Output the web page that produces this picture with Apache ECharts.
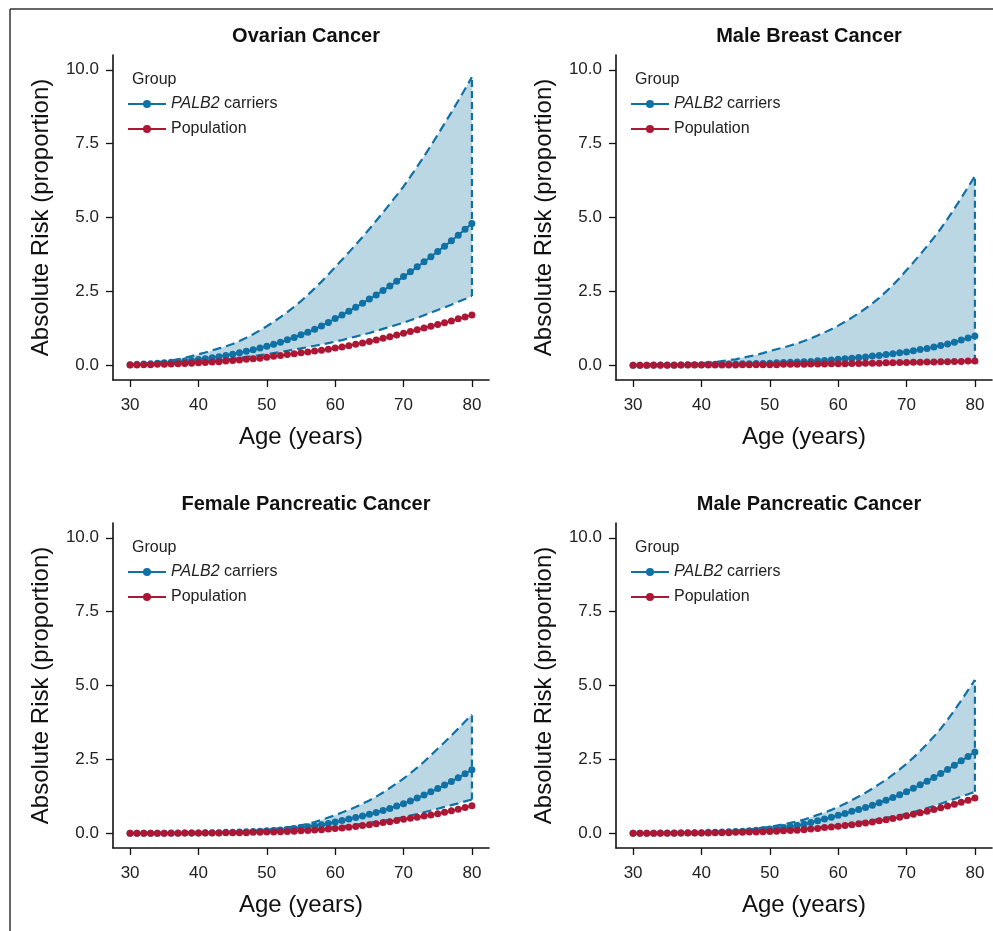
<!DOCTYPE html>
<html>
<head>
<meta charset="utf-8">
<script src="https://cdn.jsdelivr.net/npm/echarts@6/dist/echarts.min.js"></script>
<style>
html,body{margin:0;padding:0;background:#fff;}
#chart{width:993px;height:931px;}
</style>
</head>
<body>
<div id="chart"></div>
<script>
// ---------- data ----------
var ages = [30,31,32,33,34,35,36,37,38,39,40,41,42,43,44,45,46,47,48,49,50,51,52,53,54,55,56,57,58,59,60,61,62,63,64,65,66,67,68,69,70,71,72,73,74,75,76,77,78,79,80];
var xTicks = [30,40,50,60,70,80];
var yTicks = [0,2.5,5,7.5,10];
var panelTitles = ['Ovarian Cancer','Male Breast Cancer','Female Pancreatic Cancer','Male Pancreatic Cancer'];
var seriesNames = ['PALB2 carriers','Population'];

// Ovarian
var ovarianCarrier = [0.02,0.03,0.04,0.05,0.07,0.08,0.10,0.12,0.14,0.16,0.19,0.22,0.25,0.29,0.33,0.37,0.42,0.47,0.52,0.58,0.64,0.71,0.78,0.86,0.94,1.03,1.12,1.22,1.33,1.45,1.58,1.70,1.83,1.96,2.10,2.24,2.38,2.53,2.68,2.84,3.00,3.16,3.33,3.50,3.67,3.85,4.03,4.21,4.40,4.60,4.80];
var ovarianUpper = [0.03,0.04,0.06,0.08,0.10,0.13,0.16,0.20,0.25,0.31,0.37,0.43,0.50,0.57,0.64,0.72,0.82,0.93,1.05,1.18,1.32,1.47,1.63,1.80,1.98,2.17,2.38,2.60,2.83,3.07,3.32,3.57,3.82,4.08,4.34,4.61,4.89,5.17,5.46,5.75,6.05,6.38,6.72,7.07,7.43,7.80,8.18,8.56,8.95,9.35,9.75];
var ovarianLower = [0.01,0.01,0.02,0.03,0.04,0.05,0.06,0.07,0.08,0.09,0.11,0.13,0.15,0.17,0.19,0.22,0.25,0.28,0.31,0.34,0.37,0.41,0.45,0.49,0.53,0.57,0.61,0.66,0.70,0.75,0.80,0.85,0.91,0.97,1.03,1.09,1.16,1.23,1.30,1.37,1.44,1.52,1.60,1.69,1.78,1.87,1.96,2.05,2.15,2.24,2.34];
var ovarianPopulation = [0.01,0.01,0.02,0.02,0.03,0.03,0.04,0.05,0.06,0.07,0.08,0.09,0.11,0.12,0.14,0.16,0.18,0.20,0.22,0.24,0.27,0.30,0.33,0.36,0.39,0.42,0.45,0.48,0.51,0.54,0.58,0.62,0.66,0.71,0.75,0.80,0.85,0.91,0.96,1.02,1.08,1.14,1.20,1.26,1.32,1.38,1.44,1.50,1.57,1.63,1.70];

// Male breast
var maleBreastCarrier = [0.00,0.00,0.00,0.01,0.01,0.01,0.01,0.01,0.02,0.02,0.02,0.03,0.03,0.03,0.04,0.04,0.05,0.05,0.06,0.06,0.07,0.08,0.09,0.10,0.11,0.12,0.13,0.15,0.16,0.18,0.20,0.22,0.24,0.26,0.28,0.31,0.33,0.36,0.39,0.42,0.45,0.49,0.53,0.57,0.62,0.67,0.72,0.78,0.85,0.92,0.99];
var maleBreastUpper = [0.00,0.00,0.01,0.01,0.01,0.02,0.03,0.04,0.05,0.06,0.07,0.09,0.11,0.14,0.17,0.20,0.25,0.30,0.35,0.41,0.48,0.54,0.60,0.67,0.74,0.82,0.91,1.01,1.11,1.22,1.34,1.47,1.61,1.76,1.92,2.09,2.28,2.49,2.71,2.96,3.22,3.48,3.75,4.03,4.32,4.62,4.95,5.30,5.66,6.03,6.40];
var maleBreastLower = [0.00,0.00,0.00,0.00,0.00,0.00,0.00,0.00,0.00,0.00,0.00,0.00,0.00,0.00,0.00,0.00,0.00,0.01,0.01,0.01,0.01,0.01,0.01,0.01,0.02,0.02,0.02,0.02,0.02,0.03,0.03,0.03,0.03,0.04,0.04,0.05,0.05,0.05,0.06,0.06,0.07,0.07,0.08,0.08,0.09,0.09,0.10,0.10,0.11,0.11,0.12];
var maleBreastPopulation = [0.00,0.00,0.00,0.00,0.00,0.00,0.00,0.01,0.01,0.01,0.01,0.01,0.01,0.01,0.01,0.01,0.02,0.02,0.02,0.02,0.02,0.02,0.03,0.03,0.03,0.03,0.04,0.04,0.04,0.05,0.05,0.05,0.06,0.06,0.07,0.07,0.07,0.08,0.08,0.09,0.09,0.10,0.10,0.11,0.11,0.12,0.12,0.13,0.13,0.14,0.14];

// Female pancreatic
var femPancCarrier = [0.00,0.00,0.00,0.00,0.00,0.00,0.01,0.01,0.01,0.01,0.01,0.02,0.02,0.02,0.03,0.03,0.04,0.05,0.06,0.07,0.08,0.09,0.11,0.13,0.16,0.19,0.22,0.25,0.29,0.33,0.38,0.43,0.48,0.53,0.58,0.64,0.70,0.77,0.84,0.92,1.00,1.09,1.19,1.29,1.40,1.51,1.63,1.75,1.88,2.01,2.15];
var femPancUpper = [0.00,0.00,0.00,0.01,0.01,0.01,0.01,0.01,0.02,0.02,0.02,0.03,0.03,0.04,0.04,0.05,0.06,0.07,0.09,0.11,0.13,0.15,0.17,0.20,0.23,0.27,0.32,0.38,0.45,0.53,0.61,0.70,0.79,0.89,1.00,1.11,1.24,1.38,1.53,1.69,1.85,2.03,2.22,2.42,2.64,2.86,3.08,3.31,3.54,3.78,4.02];
var femPancLower = [0.00,0.00,0.00,0.00,0.00,0.00,0.00,0.00,0.01,0.01,0.01,0.01,0.01,0.01,0.02,0.02,0.02,0.03,0.03,0.04,0.04,0.05,0.06,0.07,0.08,0.10,0.12,0.14,0.16,0.18,0.21,0.23,0.26,0.29,0.32,0.35,0.39,0.42,0.46,0.50,0.55,0.60,0.65,0.71,0.77,0.83,0.89,0.95,1.01,1.08,1.14];
var femPancPopulation = [0.00,0.00,0.00,0.00,0.00,0.00,0.00,0.00,0.01,0.01,0.01,0.01,0.01,0.01,0.02,0.02,0.02,0.02,0.03,0.03,0.04,0.04,0.05,0.06,0.07,0.08,0.09,0.11,0.12,0.14,0.16,0.18,0.20,0.23,0.26,0.29,0.32,0.36,0.39,0.43,0.47,0.51,0.54,0.58,0.62,0.66,0.71,0.76,0.81,0.87,0.93];

// Male pancreatic
var malePancCarrier = [0.00,0.00,0.00,0.00,0.01,0.01,0.01,0.01,0.02,0.02,0.02,0.03,0.03,0.04,0.05,0.06,0.07,0.08,0.10,0.12,0.14,0.16,0.19,0.22,0.26,0.30,0.36,0.42,0.48,0.54,0.61,0.67,0.74,0.80,0.87,0.95,1.03,1.12,1.21,1.30,1.40,1.52,1.64,1.76,1.89,2.02,2.16,2.30,2.45,2.60,2.75];
var malePancUpper = [0.00,0.00,0.01,0.01,0.01,0.01,0.02,0.02,0.03,0.03,0.04,0.05,0.06,0.07,0.08,0.09,0.11,0.13,0.16,0.19,0.22,0.26,0.30,0.35,0.40,0.46,0.54,0.62,0.70,0.79,0.89,1.00,1.12,1.24,1.37,1.51,1.66,1.81,1.98,2.16,2.35,2.56,2.78,3.02,3.27,3.54,3.84,4.16,4.49,4.84,5.19];
var malePancLower = [0.00,0.00,0.00,0.00,0.00,0.00,0.01,0.01,0.01,0.01,0.01,0.02,0.02,0.02,0.03,0.03,0.04,0.04,0.05,0.06,0.07,0.08,0.10,0.12,0.14,0.16,0.18,0.20,0.22,0.24,0.27,0.30,0.33,0.37,0.40,0.44,0.48,0.52,0.56,0.61,0.66,0.72,0.78,0.85,0.92,1.00,1.08,1.16,1.24,1.32,1.40];
var malePancPopulation = [0.00,0.00,0.00,0.00,0.00,0.00,0.00,0.01,0.01,0.01,0.01,0.01,0.02,0.02,0.02,0.03,0.03,0.04,0.04,0.05,0.06,0.07,0.08,0.09,0.10,0.12,0.14,0.16,0.19,0.21,0.24,0.26,0.29,0.32,0.35,0.38,0.42,0.46,0.50,0.54,0.59,0.64,0.69,0.74,0.80,0.86,0.92,0.98,1.05,1.12,1.19];

// ---------- styling ----------
var BLUE = '#1071a4';
var RED = '#ab1734';
var FILL = '#bcd7e4';
var FONT = '"Liberation Sans", Arial, sans-serif';

var panels = [
  {carrier: ovarianCarrier, upper: ovarianUpper, lower: ovarianLower, pop: ovarianPopulation},
  {carrier: maleBreastCarrier, upper: maleBreastUpper, lower: maleBreastLower, pop: maleBreastPopulation},
  {carrier: femPancCarrier, upper: femPancUpper, lower: femPancLower, pop: femPancPopulation},
  {carrier: malePancCarrier, upper: malePancUpper, lower: malePancLower, pop: malePancPopulation}
];
var gridPos = [
  {left: 113, top: 55},
  {left: 616, top: 55},
  {left: 113, top: 523},
  {left: 616, top: 523}
];
var GW = 376, GH = 325;

function pairs(arr) { return ages.map(function (a, j) { return [a, arr[j]]; }); }

var grids = [], xAxes = [], yAxes = [], series = [], titles = [], legends = [], graphics = [];

gridPos.forEach(function (g, i) {
  grids.push({left: g.left, top: g.top, width: GW, height: GH, containLabel: false});
  xAxes.push({
    type: 'value', gridIndex: i, min: 27.5, max: 82.5,
    name: 'Age (years)', nameLocation: 'middle', nameGap: 45,
    nameTextStyle: {fontFamily: FONT, fontSize: 24, color: '#111'},
    axisLine: {onZero: false, lineStyle: {color: '#111', width: 1.6}},
    axisTick: {show: true, length: 7, customValues: xTicks, lineStyle: {color: '#111', width: 1.3}},
    axisLabel: {customValues: xTicks, margin: 17, fontFamily: FONT, fontSize: 17, color: '#222'},
    splitLine: {show: false}
  });
  yAxes.push({
    type: 'value', gridIndex: i, min: -0.5, max: 10.5,
    name: 'Absolute Risk (proportion)', nameLocation: 'middle', nameGap: 60,
    nameTextStyle: {fontFamily: FONT, fontSize: 24, color: '#111'},
    axisLine: {show: true, onZero: false, lineStyle: {color: '#111', width: 1.6}},
    axisTick: {show: true, length: 7, customValues: yTicks, lineStyle: {color: '#111', width: 1.3}},
    axisLabel: {customValues: yTicks, margin: 14, fontFamily: FONT, fontSize: 17, color: '#222',
      formatter: function (v) { return Number(v).toFixed(1); }},
    splitLine: {show: false}
  });
  titles.push({
    text: panelTitles[i], left: g.left + GW / 2, top: g.top - 34, textAlign: 'center',
    textStyle: {fontFamily: FONT, fontSize: 20, fontWeight: 'bold', color: '#111'}
  });
  titles.push({
    text: 'Group', left: g.left + 14, top: g.top + 12,
    textStyle: {fontFamily: FONT, fontSize: 16, fontWeight: 'normal', color: '#222'}
  });
  legends.push({
    left: g.left + 14, top: g.top + 41, orient: 'vertical', padding: 0, itemGap: 9,
    itemWidth: 38, itemHeight: 10, selectedMode: false,
    data: seriesNames,
    textStyle: {fontFamily: FONT, fontSize: 16, color: '#222',
      rich: {i: {fontFamily: FONT, fontSize: 16, fontStyle: 'italic', color: '#222'}}},
    formatter: function (n) { return n === 'PALB2 carriers' ? '{i|PALB2} carriers' : n; }
  });

  var p = panels[i];
  var last = ages.length - 1;
  // confidence band polygon drawn through the axes' scales
  series.push({
    type: 'custom', xAxisIndex: i, yAxisIndex: i, z: 1, silent: true,
    data: [0],
    renderItem: (function (pp) {
      return function (params, api) {
        var pts = [];
        for (var j = 0; j < ages.length; j++) pts.push(api.coord([ages[j], pp.upper[j]]));
        for (var k = ages.length - 1; k >= 0; k--) pts.push(api.coord([ages[k], pp.lower[k]]));
        return {type: 'polygon', shape: {points: pts}, style: {fill: FILL}};
      };
    })(p)
  });
  [p.upper, p.lower].forEach(function (arr) {
    series.push({
      type: 'line', xAxisIndex: i, yAxisIndex: i, z: 2, silent: true,
      data: pairs(arr), symbol: 'none',
      lineStyle: {color: BLUE, width: 2.2, type: [9, 5]}
    });
  });
  series.push({
    type: 'line', xAxisIndex: i, yAxisIndex: i, z: 2, silent: true,
    data: [[ages[last], p.lower[last]], [ages[last], p.upper[last]]], symbol: 'none',
    lineStyle: {color: BLUE, width: 2.2, type: [7, 4]}
  });
  series.push({
    name: 'PALB2 carriers', type: 'line', xAxisIndex: i, yAxisIndex: i, z: 3,
    data: pairs(p.carrier), symbol: 'circle', symbolSize: 7, showAllSymbol: true,
    lineStyle: {color: BLUE, width: 2}, itemStyle: {color: BLUE}
  });
  series.push({
    name: 'Population', type: 'line', xAxisIndex: i, yAxisIndex: i, z: 4,
    data: pairs(p.pop), symbol: 'circle', symbolSize: 7, showAllSymbol: true,
    lineStyle: {color: RED, width: 2}, itemStyle: {color: RED}
  });
});

graphics.push({type: 'line', shape: {x1: 10, y1: 9, x2: 993, y2: 9}, style: {stroke: '#333', lineWidth: 1.5}});
graphics.push({type: 'line', shape: {x1: 10, y1: 9, x2: 10, y2: 931}, style: {stroke: '#333', lineWidth: 1.5}});

var chart = echarts.init(document.getElementById('chart'), null, {renderer: 'canvas'});
chart.setOption({
  animation: false,
  backgroundColor: '#fff',
  title: titles,
  legend: legends,
  grid: grids,
  xAxis: xAxes,
  yAxis: yAxes,
  series: series,
  graphic: graphics
});
</script>
</body>
</html>
